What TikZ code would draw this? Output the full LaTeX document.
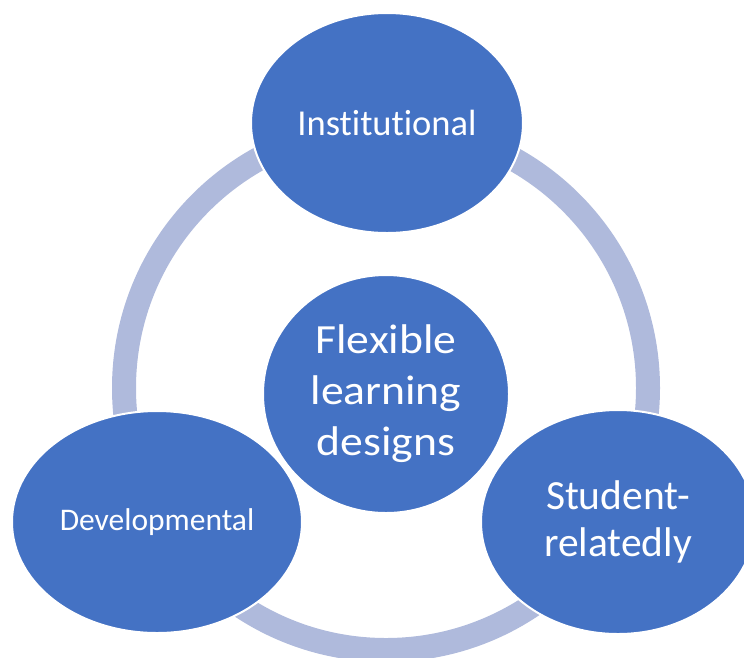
\documentclass[tikz,border=0pt]{standalone}
\usepackage{fontspec}
\setmainfont{Carlito}[Ligatures=NoCommon]
\newfontfamily\hubfont[Ligatures=NoCommon, FakeStretch=1.1]{Carlito}
\usepackage{tikz}
\usetikzlibrary{shapes.geometric}
\definecolor{myblue}{RGB}{68,114,196}
\definecolor{myring}{RGB}{175,186,220}
\tikzset{
  bubble/.style={ellipse, fill=myblue, draw=white, line width=2pt,
    text=white, align=center, inner sep=0pt},
  ringline/.style={color=myring, line width=24pt}
}

\begin{document}
\begin{tikzpicture}[x=1pt, y=-1pt]
  % Frame
  \clip (0,0) rectangle (744,657);
  % Cycle ring, drawn first so the bubbles sit on top
  \coordinate (ringc) at (386,388);
  \draw[ringline] (ringc) circle[radius=262pt];
  % Centre bubble
  \node[bubble, minimum width=246pt, minimum height=238pt,
    font=\hubfont\fontsize{41.5}{51}\selectfont] (hub) at (386,394)
    {Flexible\\learning\\designs};
  % Outer bubbles
  \node[bubble, minimum width=272pt, minimum height=220pt,
    font=\fontsize{36.5}{44}\selectfont] (inst) at (387,123) {Institutional};
  \node[bubble, minimum width=290pt, minimum height=222pt,
    font=\fontsize{31.5}{38}\selectfont] (dev) at (157,522) {Developmental};
  \node[bubble, minimum width=274pt, minimum height=224pt,
    font=\fontsize{41.5}{47}\selectfont] (stud) at (618,522) {Student-\\relatedly};
\end{tikzpicture}
\end{document}
